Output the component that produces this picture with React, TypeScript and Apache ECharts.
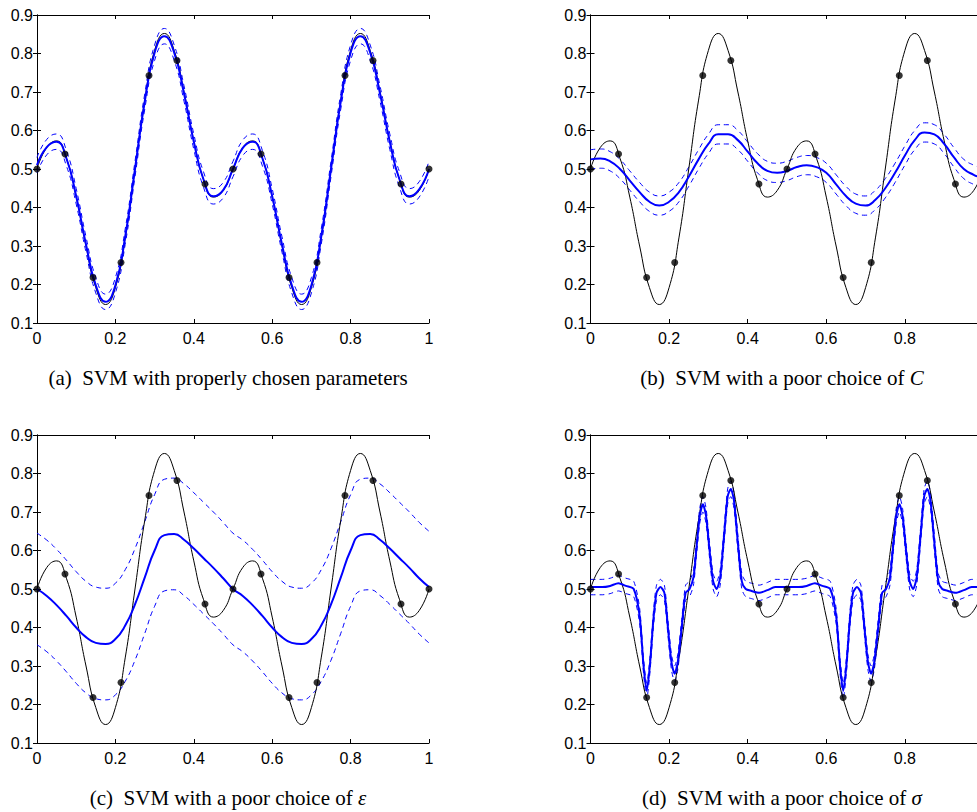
import React, { useEffect, useRef } from "react";
import * as echarts from "echarts";

// sample grid for the curves
const XS = [0, 0.025, 0.05, 0.075, 0.1, 0.125, 0.15, 0.175, 0.2, 0.225, 0.25, 0.275, 0.3, 0.325, 0.35, 0.375, 0.4, 0.425, 0.45, 0.475, 0.5,
  0.525, 0.55, 0.575, 0.6, 0.625, 0.65, 0.675, 0.7, 0.725, 0.75, 0.775, 0.8, 0.825, 0.85, 0.875, 0.9, 0.925, 0.95, 0.975, 1];

// true function (black)
const TRUE_Y = [0.5, 0.556, 0.573, 0.528, 0.427, 0.3, 0.192, 0.148, 0.192, 0.321, 0.5, 0.679, 0.808, 0.852, 0.808, 0.7, 0.573, 0.472, 0.427, 0.444, 0.5,
  0.556, 0.573, 0.528, 0.427, 0.3, 0.192, 0.148, 0.192, 0.321, 0.5, 0.679, 0.808, 0.852, 0.808, 0.7, 0.573, 0.472, 0.427, 0.444, 0.5];

// training samples
const DOT_X = [0, 0.0714, 0.1429, 0.2143, 0.2857, 0.3571, 0.4286, 0.5, 0.5714, 0.6429, 0.7143, 0.7857, 0.8571, 0.9286, 1];
const DOT_Y = [0.5, 0.539, 0.218, 0.257, 0.743, 0.782, 0.461, 0.5, 0.539, 0.218, 0.257, 0.743, 0.782, 0.461, 0.5];

// (a) SVM prediction, properly chosen parameters
const SVM_A = [0.51, 0.557, 0.571, 0.528, 0.429, 0.304, 0.198, 0.155, 0.198, 0.324, 0.5, 0.676, 0.802, 0.845, 0.802, 0.696, 0.571, 0.472, 0.429, 0.445, 0.5,
  0.555, 0.571, 0.528, 0.429, 0.304, 0.198, 0.155, 0.198, 0.324, 0.5, 0.676, 0.802, 0.845, 0.802, 0.696, 0.571, 0.472, 0.429, 0.447, 0.5];
const EPS_A = 0.02;

// (b) poor C
const SVM_B = [0.525, 0.527, 0.52, 0.5, 0.47, 0.44, 0.415, 0.405, 0.415, 0.44, 0.48, 0.525, 0.565, 0.59, 0.59, 0.575, 0.545, 0.515, 0.495, 0.49, 0.495,
  0.505, 0.51, 0.505, 0.49, 0.46, 0.43, 0.41, 0.405, 0.42, 0.45, 0.49, 0.535, 0.575, 0.595, 0.59, 0.565, 0.53, 0.5, 0.485, 0.475];
const EPS_B = 0.025;

// (c) poor epsilon
const SVM_C = [0.5, 0.482, 0.458, 0.43, 0.4, 0.375, 0.36, 0.357, 0.37, 0.405, 0.46, 0.53, 0.6, 0.64, 0.643, 0.628, 0.605, 0.58, 0.555, 0.528, 0.5,
  0.482, 0.458, 0.43, 0.4, 0.375, 0.36, 0.357, 0.37, 0.405, 0.46, 0.53, 0.6, 0.64, 0.643, 0.628, 0.605, 0.58, 0.555, 0.528, 0.505];
const EPS_C = 0.145;

// (d) poor sigma (irregular sampling around the narrow kernels)
const XS_D = [0, 0.03, 0.05, 0.071, 0.09, 0.11, 0.125, 0.135, 0.143, 0.151, 0.16, 0.168, 0.178, 0.188, 0.197, 0.206, 0.214, 0.222, 0.232, 0.242,
  0.252, 0.262, 0.27, 0.278, 0.286, 0.294, 0.303, 0.312, 0.321, 0.33, 0.34, 0.349, 0.357, 0.365, 0.375, 0.385, 0.395, 0.41, 0.429, 0.45, 0.47, 0.5,
  0.53, 0.55, 0.571, 0.59, 0.61, 0.625, 0.635, 0.643, 0.651, 0.66, 0.668, 0.678, 0.688, 0.697, 0.706, 0.714, 0.722, 0.732, 0.742,
  0.752, 0.762, 0.77, 0.778, 0.786, 0.794, 0.803, 0.812, 0.821, 0.83, 0.84, 0.849, 0.857, 0.865, 0.875, 0.885, 0.895, 0.91, 0.929, 0.95, 0.97, 1];
const SVM_D = [0.505, 0.505, 0.508, 0.515, 0.508, 0.5, 0.43, 0.3, 0.235, 0.3, 0.42, 0.49, 0.505, 0.49, 0.4, 0.31, 0.28, 0.31, 0.4, 0.49,
  0.5, 0.53, 0.61, 0.69, 0.72, 0.69, 0.6, 0.52, 0.5, 0.53, 0.64, 0.74, 0.76, 0.73, 0.62, 0.52, 0.5, 0.495, 0.49, 0.497, 0.505, 0.505,
  0.505, 0.508, 0.515, 0.508, 0.5, 0.43, 0.3, 0.235, 0.3, 0.42, 0.49, 0.505, 0.49, 0.4, 0.31, 0.28, 0.31, 0.4, 0.49,
  0.5, 0.53, 0.61, 0.69, 0.72, 0.69, 0.6, 0.52, 0.5, 0.53, 0.64, 0.74, 0.76, 0.73, 0.62, 0.52, 0.5, 0.495, 0.49, 0.497, 0.505, 0.505];
const EPS_D = 0.02;

const X_TICKS = [0, 0.2, 0.4, 0.6, 0.8, 1];
const Y_TICKS = [0.1, 0.2, 0.3, 0.4, 0.5, 0.6, 0.7, 0.8, 0.9];

const CAPTIONS = [
  "(a)  SVM with properly chosen parameters",
  "(b)  SVM with a poor choice of {i|C}",
  "(c)  SVM with a poor choice of {i|ε}",
  "(d)  SVM with a poor choice of {i|σ}",
];

const GRIDS = [
  { left: 37, top: 15, width: 392, height: 308 },
  { left: 590.5, top: 15, width: 393, height: 308 },
  { left: 37, top: 435, width: 392, height: 308 },
  { left: 590.5, top: 435, width: 393, height: 308 },
];

const BLUE = "#0000ff";
const SANS = "'Liberation Sans', Arial, Helvetica, sans-serif";
const SERIF = "'Liberation Serif', 'Times New Roman', serif";

function pairs(xs: number[], ys: number[], off = 0) {
  return xs.map((x, i) => [x, +(ys[i] + off).toFixed(4)]);
}

export default function App() {
  const ref = useRef<HTMLDivElement>(null);
  useEffect(() => {
    if (!ref.current) return;
    const chart = echarts.init(ref.current, undefined, { renderer: "svg" });
    const panels = [
      { xs: XS, y: SVM_A, eps: EPS_A },
      { xs: XS, y: SVM_B, eps: EPS_B },
      { xs: XS, y: SVM_C, eps: EPS_C },
      { xs: XS_D, y: SVM_D, eps: EPS_D },
    ];
    const grid: any[] = [];
    const xAxis: any[] = [];
    const yAxis: any[] = [];
    const series: any[] = [];
    const graphic: any[] = [];
    const line = { show: true, lineStyle: { color: "#000", width: 1 } };
    const tick = { show: true, inside: true, length: 4, lineStyle: { color: "#000", width: 1 } };
    panels.forEach((p, i) => {
      const g = GRIDS[i];
      // right-hand panels run past the page edge, so their last label lies outside it
      const rightSide = i === 1 || i === 3;
      grid.push({ ...g, containLabel: false, outerBoundsMode: "none" });
      xAxis.push({
        type: "value", gridIndex: i, min: 0, max: 1, interval: 0.2, position: "bottom",
        axisLine: line, axisTick: tick, splitLine: { show: false },
        axisLabel: { show: true, color: "#000", fontFamily: SANS, fontSize: 16, margin: 7, hideOverlap: false,
          formatter: (v: number) => {
            const t = X_TICKS.find((q) => Math.abs(q - v) < 1e-6);
            if (t === undefined) return "";
            if (rightSide && t === 1) return "";
            return String(t);
          } },
      });
      xAxis.push({
        type: "value", gridIndex: i, min: 0, max: 1, interval: 0.2, position: "top",
        axisLine: line, axisTick: tick, splitLine: { show: false }, axisLabel: { show: false },
      });
      yAxis.push({
        type: "value", gridIndex: i, min: 0.1, max: 0.9, interval: 0.1, position: "left",
        axisLine: line, axisTick: tick, splitLine: { show: false },
        axisLabel: { show: true, color: "#000", fontFamily: SANS, fontSize: 16, margin: 4,
          formatter: (v: number) => { const t = Y_TICKS.find((q) => Math.abs(q - v) < 1e-6); return t === undefined ? "" : t.toFixed(1); } },
      });
      yAxis.push({
        type: "value", gridIndex: i, min: 0.1, max: 0.9, interval: 0.1, position: "right",
        axisLine: line, axisTick: tick, splitLine: { show: false }, axisLabel: { show: false },
      });
      const xi = i * 2, yi = i * 2;
      const common = { type: "line", xAxisIndex: xi, yAxisIndex: yi, showSymbol: false, symbol: "none", silent: true };
      const sm = i === 3 ? 0.25 : 0.5;
      series.push({ ...common, smooth: sm, data: pairs(p.xs, p.y, p.eps), lineStyle: { color: BLUE, width: 1, type: [5, 4] }, z: 2 });
      series.push({ ...common, smooth: sm, data: pairs(p.xs, p.y, -p.eps), lineStyle: { color: BLUE, width: 1, type: [5, 4] }, z: 2 });
      series.push({ ...common, smooth: 0.5, data: pairs(XS, TRUE_Y), lineStyle: { color: "#000", width: 1 }, z: 3 });
      series.push({ ...common, smooth: sm, data: pairs(p.xs, p.y), lineStyle: { color: BLUE, width: 2 }, z: 4 });
      series.push({
        type: "scatter", xAxisIndex: xi, yAxisIndex: yi, symbol: "circle", symbolSize: 7, silent: true,
        itemStyle: { color: "#000" }, data: pairs(DOT_X, DOT_Y), z: 5,
      });
      graphic.push({
        type: "text", x: g.left + g.width / 2 - 5, y: g.top + g.height + 55,
        style: {
          text: CAPTIONS[i], align: "center", verticalAlign: "middle",
          fontFamily: SERIF, fontSize: 21, fill: "#000",
          rich: { i: { fontFamily: SERIF, fontSize: 21, fontStyle: "italic", fill: "#000" } },
        },
      });
    });
    chart.setOption({ animation: false, backgroundColor: "#fff", grid, xAxis, yAxis, series, graphic });
    return () => chart.dispose();
  }, []);
  return <div ref={ref} style={{ position: "absolute", left: 0, top: 0, width: 977, height: 812 }} />;
}
